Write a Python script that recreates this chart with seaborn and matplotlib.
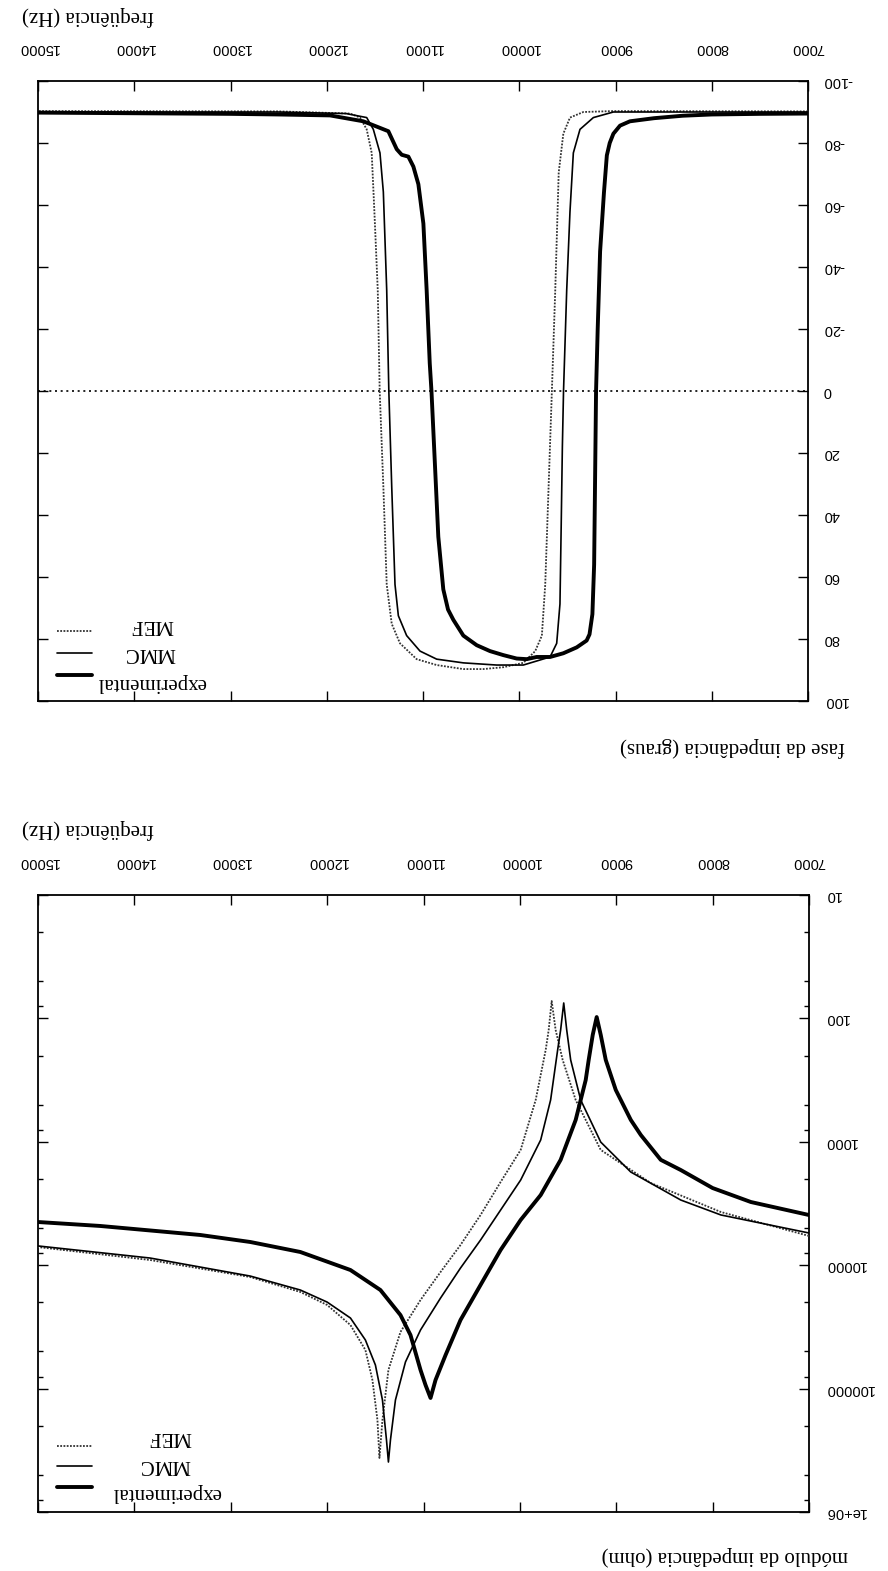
import numpy as np
import pandas as pd
import matplotlib
matplotlib.use("Agg")
import matplotlib.pyplot as plt
import seaborn as sns
from matplotlib.lines import Line2D
from matplotlib.ticker import FixedLocator, NullFormatter

# ---------------- data ----------------
# phase of impedance (degrees) vs frequency (Hz)
ph_exp_f = [7000, 7500, 8000, 8300, 8600, 8850, 8953, 9022, 9060, 9090, 9120, 9160,
            9185, 9202, 9213, 9222, 9240, 9270, 9300, 9403, 9542, 9680, 9819, 9923,
            10027, 10165, 10304, 10442, 10581, 10685, 10740, 10789, 10841, 10875, 10912,
            10930, 10962, 10996, 11048, 11100, 11152, 11221, 11273, 11360, 11620,
            11966, 12500, 13000, 14000, 15000]
ph_exp_v = [-89.5, -89.4, -89.2, -88.8, -88.0, -87.0, -85.6, -83.0, -80.0, -76.0, -64.0, -45.0,
            -20.0, 0.0, 31.0, 56.0, 72.0, 78.5, 80.5, 82.7, 84.6, 85.8, 85.8, 86.5,
            86.3, 85.2, 83.9, 82.0, 78.9, 73.8, 70.5, 64.0, 47.0, 24.4, 0.0,
            -9.0, -32.5, -54.0, -66.7, -72.4, -75.6, -76.2, -78.0, -83.8, -87.0,
            -88.9, -89.2, -89.4, -89.6, -89.8]

ph_mmc_f = [7000, 8000, 9022, 9230, 9369, 9438, 9473, 9507, 9540, 9552, 9564, 9577,
            9611, 9680, 9819, 9958, 10235, 10581, 10858, 11031, 11170, 11256, 11291,
            11325, 11355, 11377, 11412, 11447, 11516, 11585, 11800, 12500, 15000]
ph_mmc_v = [-90.0, -90.0, -90.0, -88.2, -84.4, -76.8, -57.8, -32.5, 0.0, 18.0, 43.0, 68.7,
            81.4, 85.8, 87.1, 88.4, 88.4, 87.7, 86.5, 83.9, 78.9, 72.5, 62.4,
            30.8, 0.0, -32.5, -64.2, -76.8, -84.4, -88.2, -89.5, -90.0, -90.0]

ph_mef_f = [7000, 9022, 9334, 9473, 9542, 9590, 9626, 9661, 9695, 9730, 9765, 9834,
            9958, 10165, 10373, 10581, 10858, 11066, 11239, 11325, 11377, 11412, 11450,
            11470, 11505, 11533, 11585, 11654, 11758, 12500, 15000]
ph_mef_v = [-90.2, -90.3, -90.0, -88.2, -83.0, -70.5, -32.5, 0.0, 30.8, 62.4, 78.9, 83.9,
            87.7, 89.1, 89.7, 89.7, 88.4, 86.5, 81.4, 75.1, 62.4, 30.8, 0.0,
            -32.5, -57.8, -76.8, -84.4, -88.2, -89.5, -90.2, -90.3]

# modulus of impedance (ohm) vs frequency (Hz)
mg_exp_f = [7000, 7603, 8000, 8330, 8538, 8745, 8849, 9005, 9109, 9161, 9203, 9244,
            9286, 9317, 9421, 9577, 9784, 9992, 10200, 10408, 10616, 10771, 10875,
            10927, 10979, 11031, 11135, 11239, 11447, 11758, 12278, 12797, 13317,
            14356, 15000]
mg_exp_v = [3920, 3076, 2370, 1694, 1400, 881, 665, 380, 217, 136, 97.5, 136,
            217, 316, 665, 1400, 2700, 4300, 7530, 14450, 27800, 53460, 85110,
            119100, 93540, 70630, 36810, 25350, 15890, 10940, 7816, 6486, 5689,
            4808, 4467]

mg_mmc_f = [7000, 7914, 8330, 8849, 9161, 9369, 9473, 9514, 9545, 9577, 9608, 9681,
            9784, 9992, 10200, 10408, 10616, 10823, 11031, 11187, 11291, 11343, 11364,
            11384, 11426, 11499, 11603, 11758, 12000, 12278, 12797, 13836, 15000]
mg_mmc_v = [5483, 3917, 2965, 1758, 1005, 458, 217, 124, 75, 124, 180, 458,
            966, 2042, 3573, 6252, 10540, 18450, 33500, 60810, 123600, 261200, 393600,
            261200, 123600, 64420, 40360, 26790, 19900, 15890, 12250, 8750, 6982]

mg_mef_f = [7000, 7914, 8642, 9161, 9421, 9556, 9629, 9670, 9701, 9732, 9836, 9992,
            10200, 10408, 10616, 10823, 11031, 11239, 11364, 11426, 11457, 11478, 11530,
            11603, 11758, 12000, 12278, 12797, 13836, 15000]
mg_mef_v = [5794, 3707, 2158, 1164, 458, 217, 124, 72.3, 124, 180, 458, 1164,
            2118, 3917, 6855, 11350, 19140, 34750, 70630, 179500, 364800, 179500, 85110,
            48640, 30550, 21000, 16480, 12470, 9078, 7129]

series_names = ["MEF", "MMC", "experimental"]
x_ticks = [7000, 8000, 9000, 10000, 11000, 12000, 13000, 14000, 15000]
ph_ticks = [-100, -80, -60, -40, -20, 0, 20, 40, 60, 80, 100]
mg_ticks = [10, 100, 1000, 10000, 100000, 1000000]
mg_tick_labels = ["10", "100", "1000", "10000", "100000", "1e+06"]
mg_minor = [k * 10.0 ** n for n in range(1, 6) for k in (2, 5, 8)]

# ---------------- style ----------------
sns.set_style("ticks")
plt.rcParams["font.family"] = ["Liberation Sans", "DejaVu Sans"]
plt.rcParams["axes.unicode_minus"] = False
SERIF = ["Liberation Serif", "DejaVu Serif"]

W, H = 888, 1571
fig = plt.figure(figsize=(W / 100, H / 100), dpi=100)


def rect(l, t, r, b):
    return [l / W, 1 - b / H, (r - l) / W, (b - t) / H]


ax_ph = fig.add_axes(rect(38, 81, 808, 701))
ax_mg = fig.add_axes(rect(38, 895, 809, 1512))

styles = {
    "MEF": dict(color="#333333", linewidth=1.3, linestyle=(0, (1, 0.8))),
    "MMC": dict(color="black", linewidth=1.2, linestyle="-"),
    "experimental": dict(color="black", linewidth=2.8, linestyle="-"),
}

ph_df = {
    "MEF": pd.DataFrame({"f": ph_mef_f, "v": ph_mef_v}),
    "MMC": pd.DataFrame({"f": ph_mmc_f, "v": ph_mmc_v}),
    "experimental": pd.DataFrame({"f": ph_exp_f, "v": ph_exp_v}),
}
mg_df = {
    "MEF": pd.DataFrame({"f": mg_mef_f, "v": mg_mef_v}),
    "MMC": pd.DataFrame({"f": mg_mmc_f, "v": mg_mmc_v}),
    "experimental": pd.DataFrame({"f": mg_exp_f, "v": mg_exp_v}),
}

ax_ph.axhline(0, color="black", linewidth=1.2, linestyle=(0, (1.2, 2.2)), zorder=1)
for name in series_names:
    sns.lineplot(data=ph_df[name], x="f", y="v", ax=ax_ph, estimator=None,
                 legend=False, zorder=3, **styles[name])
    sns.lineplot(data=mg_df[name], x="f", y="v", ax=ax_mg, estimator=None,
                 legend=False, zorder=3, **styles[name])

ax_mg.set_yscale("log")
ax_ph.set_ylim(100, -100)
ax_mg.set_ylim(1e6, 10)

ax_ph.set_yticks(ph_ticks)
ax_ph.set_yticklabels([str(t) for t in ph_ticks])
ax_mg.yaxis.set_major_locator(FixedLocator(mg_ticks))
ax_mg.set_yticklabels(mg_tick_labels)
ax_mg.yaxis.set_minor_locator(FixedLocator(mg_minor))
ax_mg.yaxis.set_minor_formatter(NullFormatter())

for ax in (ax_ph, ax_mg):
    ax.set_xlim(15000, 7000)
    ax.set_xticks(x_ticks)
    ax.set_xticklabels([str(t) for t in x_ticks])
    ax.set_xlabel("")
    ax.set_ylabel("")
    ax.xaxis.tick_top()
    ax.yaxis.tick_right()
    ax.tick_params(which="both", direction="in", top=True, bottom=True,
                   left=True, right=True, labeltop=True, labelbottom=False,
                   labelright=True, labelleft=False, color="black",
                   labelcolor="black", labelsize=10.5, labelrotation=180)
    ax.tick_params(which="major", length=7, width=1.0)
    ax.tick_params(which="minor", length=3.5, width=1.0)
    ax.tick_params(axis="x", pad=19)
    ax.tick_params(axis="y", pad=11)
    for sp in ax.spines.values():
        sp.set_visible(True)
        sp.set_color("black")
        sp.set_linewidth(1.3)
    for lab in ax.get_yticklabels():
        lab.set_verticalalignment("center")
    ax.set_facecolor("white")

# legends (upside-down, like the rest of the page): keys from a Legend, labels centred
leg_layout = {
    ax_ph: dict(anchor=(0.0247, 0.1226), spacing=0.58, text_x=[0.148, 0.145, 0.147],
                text_y=[0.1226, 0.0790, 0.0306]),
    ax_mg: dict(anchor=(0.0247, 0.1167), spacing=0.45, text_x=[0.171, 0.165, 0.166],
                text_y=[0.1216, 0.0762, 0.0308]),
}
for ax, lay in leg_layout.items():
    handles = [Line2D([], [], **styles[n]) for n in series_names]
    ax.legend(handles, ["", "", ""], loc="upper left", bbox_to_anchor=lay["anchor"],
              frameon=False, handlelength=2.5, handletextpad=0.0,
              labelspacing=lay["spacing"], borderpad=0.0, borderaxespad=0.0,
              prop={"size": 10})
    for name, tx, ty in zip(series_names, lay["text_x"], lay["text_y"]):
        ax.text(tx, ty, name, transform=ax.transAxes, rotation=180, ha="center",
                va="center", family=SERIF, fontsize=15, color="black")

# axis titles (upside-down)
title_kw = dict(rotation=180, family=SERIF, fontsize=15, color="black")
fig.text(22 / W, 1 - 16 / H, "freqüência (Hz)", ha="left", va="center", **title_kw)
fig.text(22 / W, 1 - 829 / H, "freqüência (Hz)", ha="left", va="center", **title_kw)
fig.text(845 / W, 1 - 747 / H, "fase da impedância (graus)", ha="right", va="center", **title_kw)
fig.text(848 / W, 1 - 1556 / H, "módulo da impedância (ohm)", ha="right", va="center", **title_kw)

fig.savefig("out.png", dpi=100, facecolor="white")
